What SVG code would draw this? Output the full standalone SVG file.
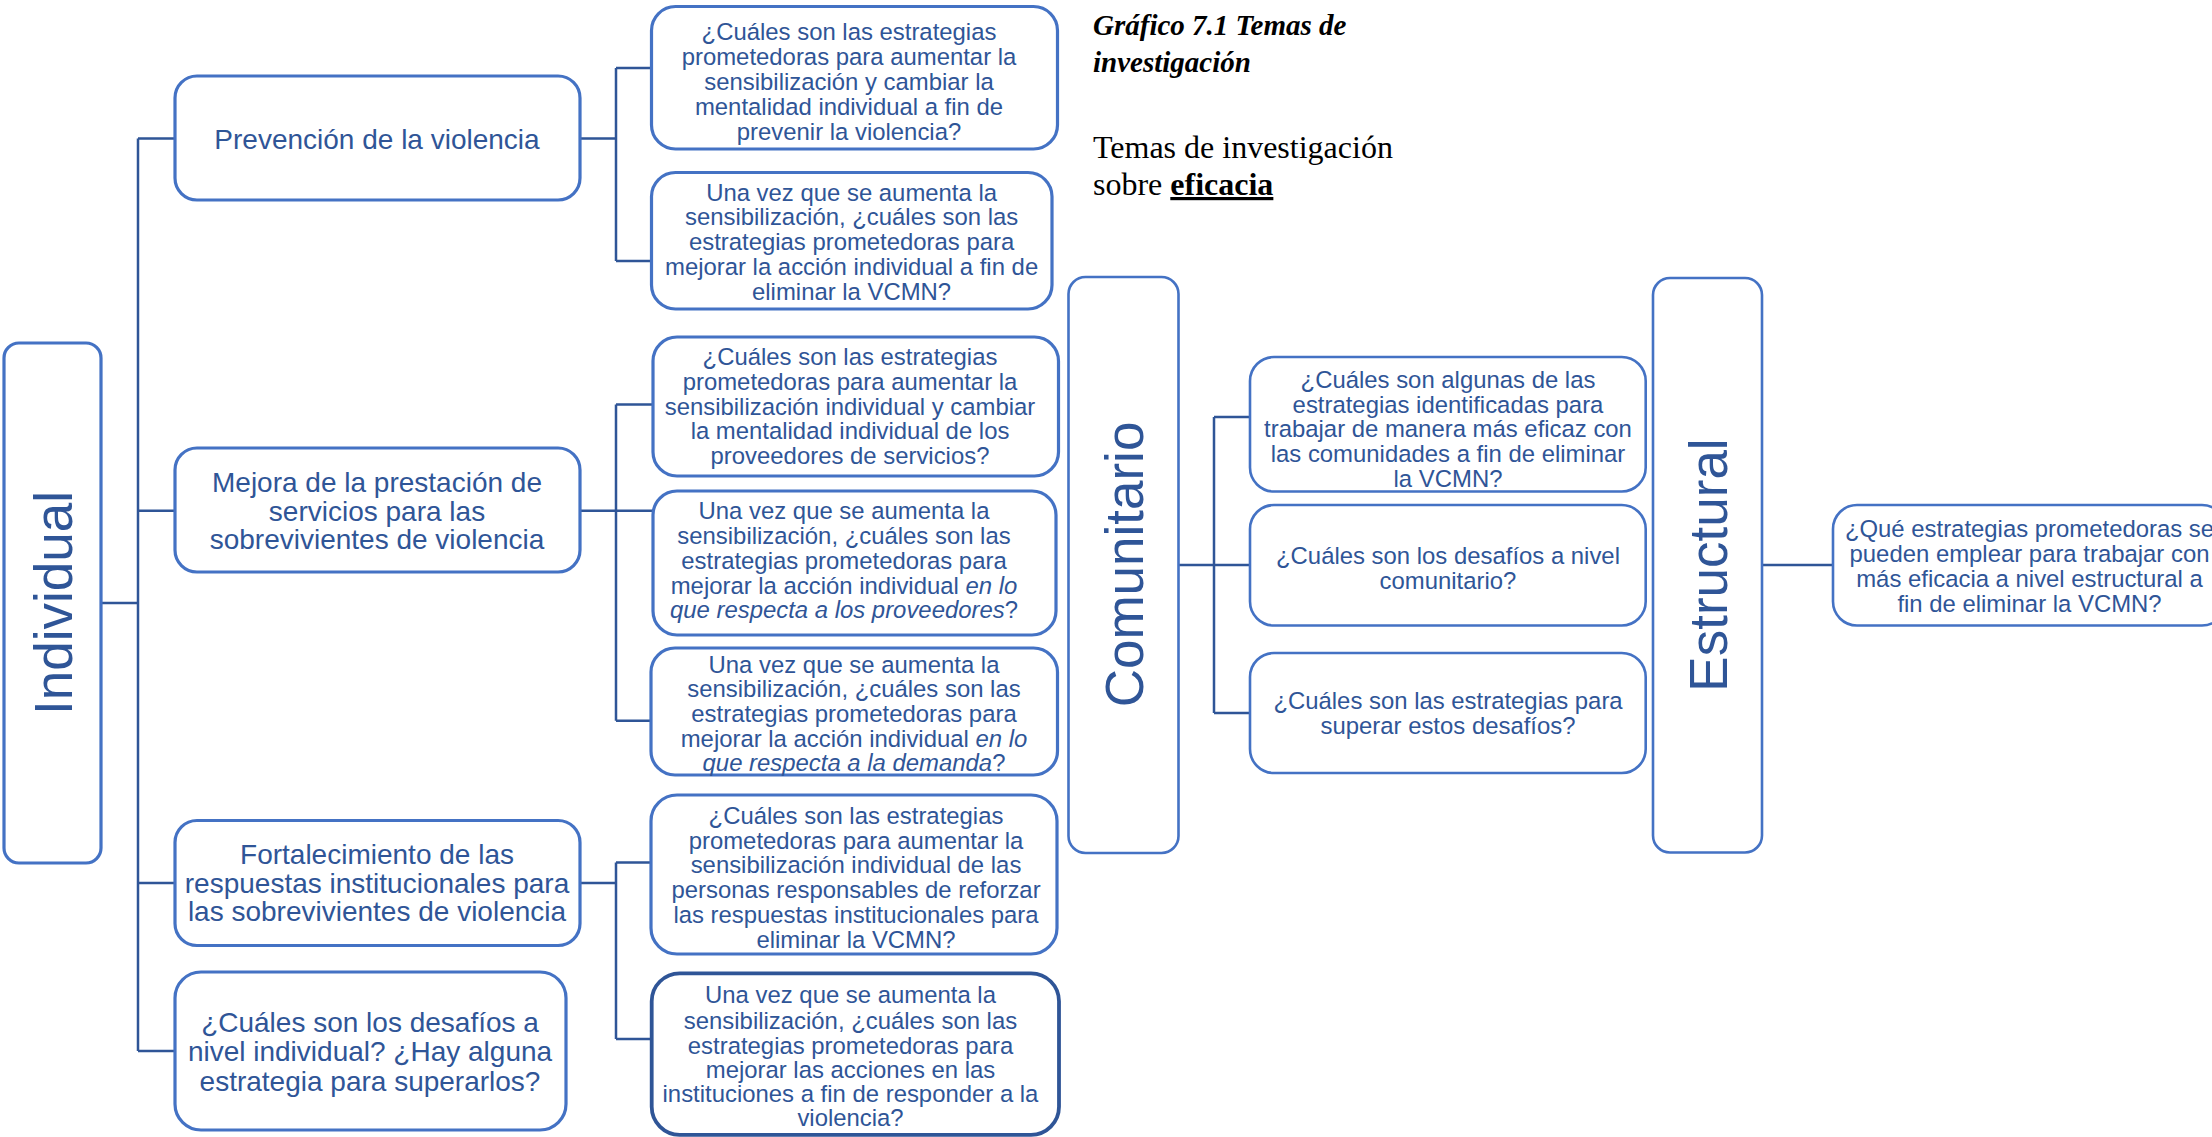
<svg xmlns="http://www.w3.org/2000/svg" width="2212" height="1137" viewBox="0 0 2212 1137">
<style>
.box{fill:#fff;stroke:#4472C4;stroke-width:3.2}
.big{fill:#fff;stroke:#4472C4;stroke-width:2.6}
.dark{fill:#fff;stroke:#2F5597;stroke-width:3.8}
.t{font-family:"Liberation Sans",Arial,sans-serif;fill:#2F5597;text-anchor:middle}
.l{font-size:28px}
.q{font-size:23.9px}
.v{font-size:53px}
.cn{fill:none;stroke:#2F5597;stroke-width:2.5}
.ti{font-family:"Liberation Serif","Times New Roman",serif;fill:#000}
</style>
<g id="connectors" class="cn">
<path d="M101,603H138M138,138.6V1051M138,138.6H175M138,510.7H175M138,883H175M138,1051H175"/>
<path d="M580,138.6H616M616,68V261M616,68H652M616,261H652"/>
<path d="M580,510.7H616M616,404.6V720.8M616,404.6H653M616,510.7H653M616,720.8H652"/>
<path d="M580,883H616M616,862.5V1039M616,862.5H652M616,1039H652"/>
<path d="M1178.5,565H1214M1214,417V713M1214,417H1250M1214,565H1250M1214,713H1250"/>
<path d="M1762,565H1833"/>
</g>
<g id="title">
<text class="ti" x="1093" y="35" font-size="29" font-weight="bold" font-style="italic">Gráfico 7.1 Temas de</text>
<text class="ti" x="1093" y="71.7" font-size="29" font-weight="bold" font-style="italic">investigación</text>
<text class="ti" x="1093" y="158.3" font-size="32">Temas de investigación</text>
<text class="ti" x="1093" y="195" font-size="32">sobre <tspan font-weight="bold" text-decoration="underline">eficacia</tspan></text>
</g>
<g id="individual">
<rect class="box" x="4" y="343" width="97" height="520" rx="15"/>
<text class="t v" transform="translate(71.5,603) rotate(-90)">Individual</text>
</g>
<g id="prevencion">
<rect class="box" x="175" y="76" width="405" height="124" rx="22"/>
<text class="t l" x="377" y="148.6">Prevención de la violencia</text>
</g>
<g id="mejora">
<rect class="box" x="175" y="448" width="405" height="124" rx="22"/>
<text class="t l" x="377"><tspan x="377" y="492">Mejora de la prestación de</tspan><tspan x="377" y="520.7">servicios para las</tspan><tspan x="377" y="549">sobrevivientes de violencia</tspan></text>
</g>
<g id="fortalecimiento">
<rect class="box" x="175" y="820.5" width="405" height="125" rx="22"/>
<text class="t l"><tspan x="377" y="864.4">Fortalecimiento de las</tspan><tspan x="377" y="893">respuestas institucionales para</tspan><tspan x="377" y="921.4">las sobrevivientes de violencia</tspan></text>
</g>
<g id="desafios-individual">
<rect class="box" x="175" y="972" width="391" height="158" rx="26"/>
<text class="t l"><tspan x="370" y="1031.8">¿Cuáles son los desafíos a</tspan><tspan x="370" y="1061.3">nivel individual? ¿Hay alguna</tspan><tspan x="370" y="1090.7">estrategia para superarlos?</tspan></text>
</g>
<g id="q1">
<rect class="box" x="651.5" y="6.5" width="406" height="142.5" rx="24"/>
<text class="t q"><tspan x="849" y="40.4">¿Cuáles son las estrategias</tspan><tspan x="849" y="65.2">prometedoras para aumentar la</tspan><tspan x="849" y="90">sensibilización y cambiar la</tspan><tspan x="849" y="114.8">mentalidad individual a fin de</tspan><tspan x="849" y="139.6">prevenir la violencia?</tspan></text>
</g>
<g id="q2">
<rect class="box" x="651.5" y="172.5" width="400.5" height="136.5" rx="24"/>
<text class="t q"><tspan x="851.6" y="200.5">Una vez que se aumenta la</tspan><tspan x="851.6" y="224.5">sensibilización, ¿cuáles son las</tspan><tspan x="851.6" y="249.5">estrategias prometedoras para</tspan><tspan x="851.6" y="274.5">mejorar la acción individual a fin de</tspan><tspan x="851.6" y="299.5">eliminar la VCMN?</tspan></text>
</g>
<g id="q3">
<rect class="box" x="653" y="337" width="405.5" height="139" rx="24"/>
<text class="t q"><tspan x="850" y="364.5">¿Cuáles son las estrategias</tspan><tspan x="850" y="389.5">prometedoras para aumentar la</tspan><tspan x="850" y="414.5">sensibilización individual y cambiar</tspan><tspan x="850" y="438.5">la mentalidad individual de los</tspan><tspan x="850" y="463.5">proveedores de servicios?</tspan></text>
</g>
<g id="q4">
<rect class="box" x="653" y="491" width="403" height="144" rx="24"/>
<text class="t q"><tspan x="844" y="519.2">Una vez que se aumenta la</tspan><tspan x="844" y="544.2">sensibilización, ¿cuáles son las</tspan><tspan x="844" y="569.2">estrategias prometedoras para</tspan><tspan x="844" y="594.2">mejorar la acción individual <tspan font-style="italic">en lo</tspan></tspan><tspan x="844" y="618.2"><tspan font-style="italic">que respecta a los proveedores</tspan>?</tspan></text>
</g>
<g id="q5">
<rect class="box" x="651" y="648" width="406.5" height="127" rx="24"/>
<text class="t q"><tspan x="854" y="673.4">Una vez que se aumenta la</tspan><tspan x="854" y="697.3">sensibilización, ¿cuáles son las</tspan><tspan x="854" y="722.3">estrategias prometedoras para</tspan><tspan x="854" y="747">mejorar la acción individual <tspan font-style="italic">en lo</tspan></tspan><tspan x="854" y="770.9"><tspan font-style="italic">que respecta a la demanda</tspan>?</tspan></text>
</g>
<g id="q6">
<rect class="box" x="651" y="795" width="406" height="159" rx="26"/>
<text class="t q"><tspan x="856" y="823.5">¿Cuáles son las estrategias</tspan><tspan x="856" y="848.9">prometedoras para aumentar la</tspan><tspan x="856" y="873.2">sensibilización individual de las</tspan><tspan x="856" y="897.8">personas responsables de reforzar</tspan><tspan x="856" y="922.9">las respuestas institucionales para</tspan><tspan x="856" y="947.5">eliminar la VCMN?</tspan></text>
</g>
<g id="q7">
<rect class="dark" x="651.7" y="973.3" width="407.3" height="161.5" rx="28"/>
<text class="t q"><tspan x="850.5" y="1002.7">Una vez que se aumenta la</tspan><tspan x="850.5" y="1028.5">sensibilización, ¿cuáles son las</tspan><tspan x="850.5" y="1053.5">estrategias prometedoras para</tspan><tspan x="850.5" y="1078.2">mejorar las acciones en las</tspan><tspan x="850.5" y="1102.1">instituciones a fin de responder a la</tspan><tspan x="850.5" y="1126">violencia?</tspan></text>
</g>
<g id="comunitario">
<rect class="big" x="1068.5" y="277" width="110" height="576" rx="17"/>
<text class="t v" transform="translate(1142.6,564.5) rotate(-90)">Comunitario</text>
</g>
<g id="c1">
<rect class="big" x="1250" y="357" width="395.7" height="134.5" rx="24"/>
<text class="t q"><tspan x="1448" y="387.9">¿Cuáles son algunas de las</tspan><tspan x="1448" y="412.8">estrategias identificadas para</tspan><tspan x="1448" y="436.9">trabajar de manera más eficaz con</tspan><tspan x="1448" y="461.8">las comunidades a fin de eliminar</tspan><tspan x="1448" y="486.6">la VCMN?</tspan></text>
</g>
<g id="c2">
<rect class="big" x="1250" y="505" width="395.7" height="120.5" rx="24"/>
<text class="t q"><tspan x="1448" y="563.9">¿Cuáles son los desafíos a nivel</tspan><tspan x="1448" y="588.8">comunitario?</tspan></text>
</g>
<g id="c3">
<rect class="big" x="1250" y="653" width="395.7" height="120" rx="24"/>
<text class="t q"><tspan x="1448" y="709.4">¿Cuáles son las estrategias para</tspan><tspan x="1448" y="733.5">superar estos desafíos?</tspan></text>
</g>
<g id="estructural">
<rect class="big" x="1653" y="278" width="109" height="574.5" rx="17"/>
<text class="t v" transform="translate(1726.5,565) rotate(-90)">Estructural</text>
</g>
<g id="s1">
<rect class="big" x="1833" y="505" width="393" height="120.5" rx="24"/>
<text class="t q"><tspan x="2029.5" y="536.5">¿Qué estrategias prometedoras se</tspan><tspan x="2029.5" y="562">pueden emplear para trabajar con</tspan><tspan x="2029.5" y="586.9">más eficacia a nivel estructural a</tspan><tspan x="2029.5" y="611.8">fin de eliminar la VCMN?</tspan></text>
</g>
</svg>
